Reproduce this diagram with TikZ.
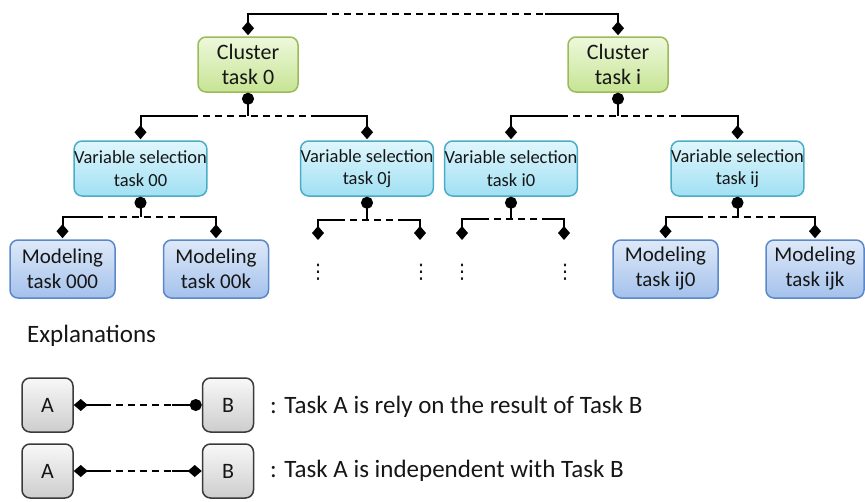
\documentclass[tikz,border=0pt]{standalone}
\usepackage{fontspec}
\setmainfont{Carlito}
\newfontfamily\dejavu{DejaVu Sans}
\usetikzlibrary{arrows.meta,calc,shadings}
\definecolor{txt}{HTML}{161616}
\definecolor{gline}{HTML}{9BBB59}
\definecolor{gtop}{HTML}{EEF8DC}
\definecolor{gbot}{HTML}{C6E494}
\definecolor{cline}{HTML}{4BACC6}
\definecolor{ctop}{HTML}{E0F6FC}
\definecolor{cbot}{HTML}{A0E0F3}
\definecolor{bline}{HTML}{5A88C8}
\definecolor{btop}{HTML}{DEE9F8}
\definecolor{bbot}{HTML}{A4C1EC}
\definecolor{kline}{HTML}{3A3A3A}
\definecolor{ktop}{HTML}{F8F8F8}
\definecolor{kbot}{HTML}{CDCDCD}
\tikzset{
  box/.style={rounded corners=8pt, line width=1.5pt, align=center, text=txt, inner sep=0pt},
  clusterbox/.style={box, draw=gline, top color=gtop, bottom color=gbot,
    minimum width=100pt, minimum height=55pt, font=\fontsize{22}{25}\selectfont},
  varbox/.style={box, draw=cline, top color=ctop, bottom color=cbot,
    minimum width=131pt, minimum height=55pt, font=\fontsize{18.5}{22.5}\selectfont},
  modbox/.style={box, draw=bline, top color=btop, bottom color=bbot,
    minimum width=105pt, minimum height=58pt, font=\fontsize{21}{25}\selectfont},
  legbox/.style={box, draw=kline, top color=ktop, bottom color=kbot,
    minimum width=51pt, minimum height=54pt, font=\fontsize{22}{24}\selectfont},
  conn/.style={line width=2pt, draw=black},
  thinconn/.style={line width=1.6pt, draw=black},
  dashpat/.style={dash pattern=on 7pt off 5pt},
  dotsnode/.style={inner sep=0pt, text=txt, font=\dejavu\fontsize{20}{20}\selectfont},
  label/.style={text=txt, inner sep=0pt, font=\fontsize{25}{28}\selectfont},
  dia/.tip={Diamond[length=14pt,width=12pt]},
  cir/.tip={Circle[length=12pt]},
}
\newcommand\taskfam[5]{%
  \coordinate (#1-bar) at (#1.south |- 0,#4);
  \draw[conn,{cir}-] (#1.south) -- (#1-bar);
  \draw[conn,dashpat] ($(#2 |- #1-bar)+(#5,0)$) -- ($(#3 |- #1-bar)+(-#5,0)$);
  \draw[conn,-{dia},shorten >=1pt] ($(#2 |- #1-bar)+(#5,0)$) -| (#2);
  \draw[conn,-{dia},shorten >=1pt] ($(#3 |- #1-bar)+(-#5,0)$) -| (#3);
}
\begin{document}
\begin{tikzpicture}[x=1pt,y=-1pt]
\useasboundingbox (0,0) rectangle (865,501);
% level 1
\node[clusterbox] (c0) at (248,64.5) {Cluster\\task 0};
\node[clusterbox] (ci) at (618,64.5) {Cluster\\task i};
% level 2
\node[varbox] (v00) at (140.5,168.5) {Variable selection\\task 00};
\node[varbox] (v0j) at (367,168.5) {Variable selection\\task 0j};
\node[varbox] (vi0) at (511,168.5) {Variable selection\\task i0};
\node[varbox] (vij) at (737.5,168.5) {Variable selection\\task ij};
% level 3
\node[modbox] (m000) at (62.5,269) {Modeling\\task 000};
\node[modbox] (m00k) at (216,269) {Modeling\\task 00k};
\node[modbox] (mij0) at (665.5,269) {Modeling\\task ij0};
\node[modbox,minimum width=98pt] (mijk) at (815,269) {Modeling\\task ijk};
% open branches
\coordinate (e1) at (318,241);
\coordinate (e2) at (420,241);
\coordinate (e3) at (462,241);
\coordinate (e4) at (564,241);
\node[dotsnode] (d1) at (318,272) {⋮};
\node[dotsnode] (d2) at (421,272) {⋮};
\node[dotsnode] (d3) at (462,272) {⋮};
\node[dotsnode] (d4) at (565,272) {⋮};
% top bar
\coordinate (t0) at (c0.north |- 0,14);
\coordinate (ti) at (ci.north |- 0,14);
\draw[conn,dashpat] ($(t0)+(72,0)$) -- ($(ti)+(-73,0)$);
\draw[conn,-{dia},shorten >=1pt] ($(t0)+(72,0)$) -- (t0) -- (c0.north);
\draw[conn,-{dia},shorten >=1pt] ($(ti)+(-73,0)$) -- (ti) -- (ci.north);
% families
\taskfam{c0}{v00}{v0j}{116}{50}
\taskfam{ci}{vi0}{vij}{116}{50}
\taskfam{v00}{m000}{m00k}{217}{33}
\taskfam{v0j}{e1}{e2}{220}{20}
\taskfam{vi0}{e3}{e4}{219}{20}
\taskfam{vij}{mij0}{mijk}{217}{30}
% explanations
\node[label,anchor=base west] (expl) at (27,342) {Explanations};
\node[legbox] (a1) at (47.5,405) {A};
\node[legbox] (b1) at (228,405) {B};
\node[legbox] (a2) at (47.5,471) {A};
\node[legbox] (b2) at (228,471) {B};
\draw[thinconn,{dia}-] (a1.east) -- ($(a1.east)+(30,0)$);
\draw[thinconn,dashpat] ($(a1.east)+(30,0)$) -- ($(b1.west)+(-30,0)$);
\draw[thinconn,-{cir}] ($(b1.west)+(-30,0)$) -- (b1.west);
\draw[thinconn,{dia}-] (a2.east) -- ($(a2.east)+(30,0)$);
\draw[thinconn,dashpat] ($(a2.east)+(30,0)$) -- ($(b2.west)+(-30,0)$);
\draw[thinconn,-{dia}] ($(b2.west)+(-30,0)$) -- (b2.west);
\node[label,anchor=base west] (l1) at (270,413) {: Task A is rely on the result of Task B};
\node[label,anchor=base west] (l2) at (270,477) {: Task A is independent with Task B};
\end{tikzpicture}
\end{document}
